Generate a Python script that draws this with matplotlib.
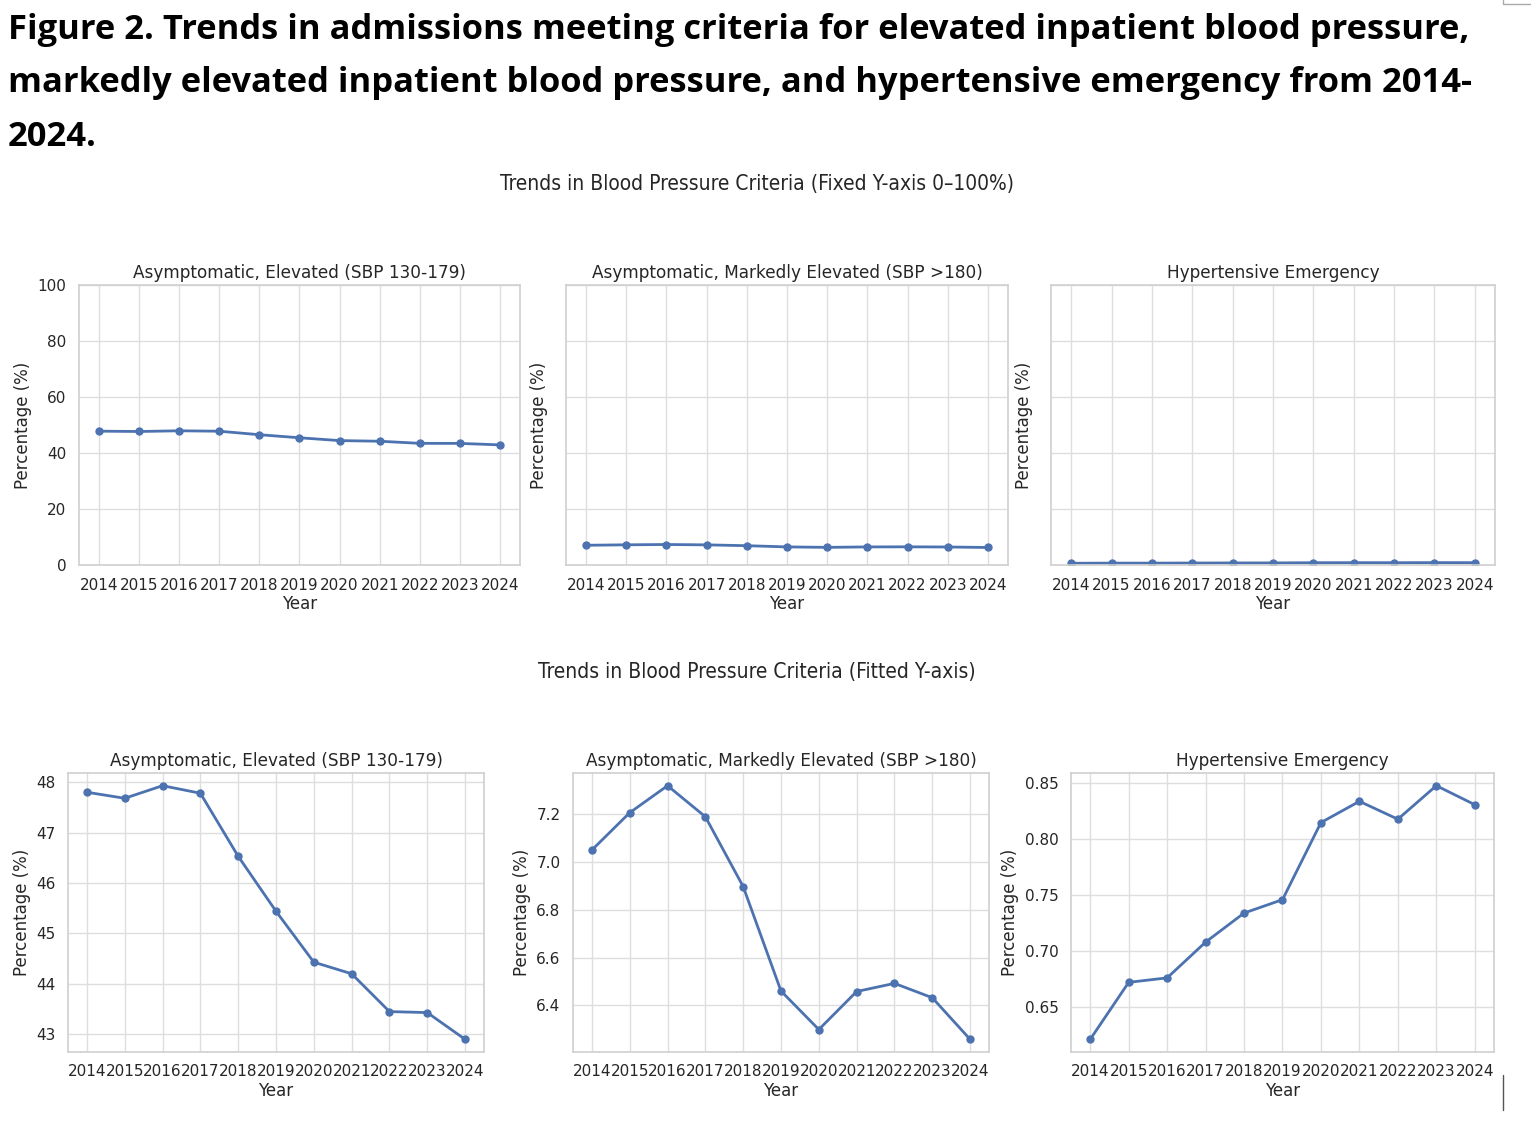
import matplotlib
matplotlib.use("Agg")
import matplotlib.pyplot as plt
from matplotlib.lines import Line2D
import seaborn as sns

years = [2014, 2015, 2016, 2017, 2018, 2019, 2020, 2021, 2022, 2023, 2024]
elevated = [47.80, 47.68, 47.93, 47.78, 46.53, 45.44, 44.43, 44.20, 43.45, 43.43, 42.90]
markedly = [7.050, 7.206, 7.319, 7.189, 6.897, 6.460, 6.299, 6.458, 6.492, 6.432, 6.258]
emergency = [0.621, 0.672, 0.676, 0.708, 0.734, 0.746, 0.815, 0.834, 0.818, 0.848, 0.831]

series = [elevated, markedly, emergency]
titles = ["Asymptomatic, Elevated (SBP 130-179)",
          "Asymptomatic, Markedly Elevated (SBP >180)",
          "Hypertensive Emergency"]
fig_title = ["Figure 2. Trends in admissions meeting criteria for elevated inpatient blood pressure,",
             "markedly elevated inpatient blood pressure, and hypertensive emergency from 2014-",
             "2024."]
sup_fixed = "Trends in Blood Pressure Criteria (Fixed Y-axis 0\u2013100%)"
sup_fitted = "Trends in Blood Pressure Criteria (Fitted Y-axis)"

sns.set_theme(style="whitegrid")
plt.rcParams['font.family'] = ['DejaVu Sans']

W, H = 1531, 1126
fig = plt.figure(figsize=(W / 100, H / 100), dpi=100)

def box(x0, y0, x1, y1):
    return [x0 / W, 1 - y1 / H, (x1 - x0) / W, (y1 - y0) / H]

top_boxes = [box(79, 285, 520, 565), box(566, 285, 1008, 565), box(1051, 285, 1495, 565)]
bot_boxes = [box(68, 773, 484, 1052), box(573, 773, 989, 1052), box(1071, 773, 1494, 1052)]

color = "#4c72b0"
txtc = "#262626"

def style(ax, title):
    ax.set_title(title, fontsize=12.2, color=txtc, pad=5, family=['DejaVu Sans'])
    ax.set_xlabel("Year", fontsize=12, color=txtc, labelpad=2, family=['DejaVu Sans'])
    ax.set_ylabel("Percentage (%)", fontsize=12, color=txtc, labelpad=4, family=['DejaVu Sans'])
    ax.set_xticks(years)
    ax.set_xticklabels([str(y) for y in years])
    ax.tick_params(axis='both', labelsize=11, colors=txtc, pad=3)
    ax.grid(True, color="#dedede", linewidth=1)
    for s in ax.spines.values():
        s.set_color("#d0d0d0")
        s.set_linewidth(1.2)

for i, (b, vals) in enumerate(zip(top_boxes, series)):
    ax = fig.add_axes(b)
    ax.plot(years, vals, marker='o', color=color, linewidth=2, markersize=5)
    ax.set_ylim(0, 100)
    ax.set_yticks([0, 20, 40, 60, 80, 100])
    style(ax, titles[i])
    if i > 0:
        ax.set_yticklabels([])

for i, (b, vals) in enumerate(zip(bot_boxes, series)):
    ax = fig.add_axes(b)
    ax.plot(years, vals, marker='o', color=color, linewidth=2, markersize=5)
    style(ax, titles[i])

fig.text(757 / W, 1 - 184 / H, sup_fixed, ha='center', va='center', fontsize=15,
         color=txtc, fontstretch='condensed')
fig.text(757 / W, 1 - 672 / H, sup_fitted, ha='center', va='center', fontsize=15,
         color=txtc, fontstretch='condensed')

for yy, line in zip([30, 83, 137], fig_title):
    fig.text(8 / W, 1 - yy / H, line, ha='left', va='center', fontsize=24.8,
             fontweight='bold', color='black', family=['Open Sans', 'DejaVu Sans'])

# page artifacts
fig.add_artist(Line2D([1503 / W, 1503 / W], [1 - 1075 / H, 1 - 1110 / H],
                      transform=fig.transFigure, color='#555555', linewidth=1))
fig.add_artist(Line2D([1503 / W, 1503 / W, 1531 / W], [1.0, 1 - 4 / H, 1 - 4 / H],
                      transform=fig.transFigure, color='#aaaaaa', linewidth=1))

fig.savefig("out.png", dpi=100, facecolor='white')
